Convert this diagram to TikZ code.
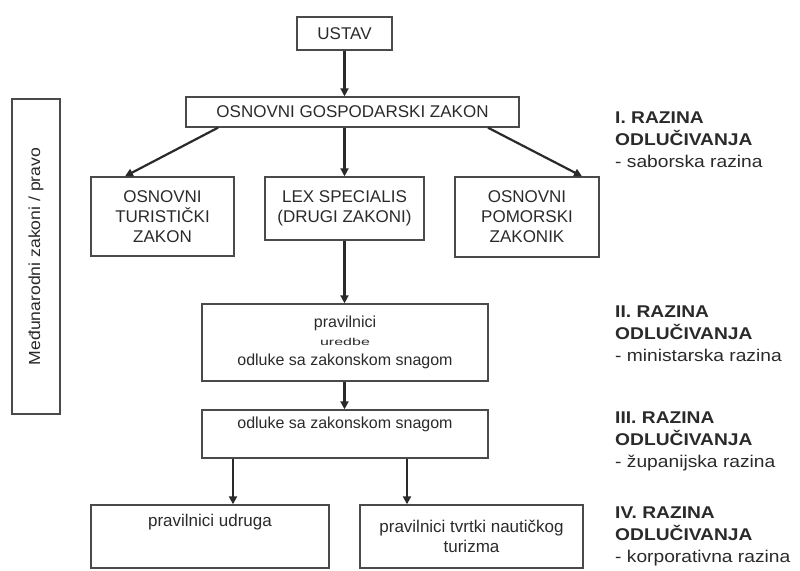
\documentclass[tikz,border=0pt]{standalone}
\usepackage{fontspec}
\setmainfont{Liberation Sans}
\usepackage{graphicx}
\usetikzlibrary{arrows.meta}
\definecolor{ink}{HTML}{2A2A2A}
\definecolor{edge}{HTML}{4A4A4A}
\begin{document}
\begin{tikzpicture}[x=1pt,y=-1pt,
  box/.style={draw=edge, line width=1.4pt, inner sep=0pt, align=center, text=ink,
    font=\fontsize{17}{20}\selectfont},
  lowbox/.style={box, font=\fontsize{16}{19}\selectfont},
  arr/.style={draw=ink, line width=2.2pt, -{Triangle[length=8pt,width=8pt]}},
  lvl/.style={anchor=north west, inner sep=0pt, text=ink, font=\fontsize{17}{22}\selectfont}
]
\useasboundingbox (0,0) rectangle (800,570);

\node[box, minimum width=95pt, minimum height=33pt] (ustav) at (344.5,33.5) {USTAV};
\node[box, minimum width=333pt, minimum height=30pt] (ogz) at (352.5,112) {OSNOVNI GOSPODARSKI ZAKON};
\node[box, minimum width=48pt, minimum height=315pt] (med) at (36,256.5) {};
\node[rotate=90, inner sep=0pt, text=ink, font=\fontsize{16}{18}\selectfont] (medt) at (med.center)
  {\scalebox{1.1}[1]{Međunarodni zakoni / pravo}};
\node[box, minimum width=143pt, minimum height=79pt] (tur) at (162.5,216.5) {OSNOVNI\\TURISTIČKI\\ZAKON};
\node[box, minimum width=159pt, minimum height=63pt] (lex) at (344.5,208.5) {LEX SPECIALIS\\(DRUGI ZAKONI)};
\node[box, minimum width=144pt, minimum height=80pt] (pom) at (527,217) {OSNOVNI\\POMORSKI\\ZAKONIK};
\node[lowbox, minimum width=286pt, minimum height=77pt] (prav) at (345,342.5)
  {\fontsize{16}{18}\selectfont pravilnici\\[-1pt]
   \scalebox{1.6}[1]{\fontsize{10}{12}\selectfont uredbe}\\[1pt]
   \fontsize{16}{18}\selectfont odluke sa zakonskom snagom};
\node[lowbox, minimum width=286pt, minimum height=48pt] (odl) at (345,434) {odluke sa zakonskom snagom\\[4pt]};
\node[box, minimum width=238pt, minimum height=63pt] (pu) at (210,536.5) {pravilnici udruga\\[6pt]\strut};
\node[box, minimum width=223pt, minimum height=63pt] (pt) at (471.5,536.5) {pravilnici tvrtki nautičkog\\turizma};

\draw[arr] (ustav.south) -- (ogz.north -| ustav.south);
\draw[arr] (ogz.south -| lex.north) -- (lex.north);
\draw[arr] (ogz.south -| 218,0) -- (tur.north -| 125,0);
\draw[arr] (ogz.south -| 488,0) -- (pom.north -| 582,0);
\draw[arr] (lex.south) -- (prav.north -| lex.south);
\draw[arr] (prav.south -| lex.south) -- (odl.north -| lex.south);
\draw[arr] (odl.south -| 233,0) -- (pu.north -| 233,0);
\draw[arr] (odl.south -| 407,0) -- (pt.north -| 407,0);

\node[lvl] (l1) at (615,108) {\scalebox{1.13}[1]{\begin{tabular}{@{}l@{}}\bfseries I. RAZINA\\\bfseries ODLUČIVANJA\\- saborska razina\end{tabular}}};
\node[lvl] (l2) at (615,302) {\scalebox{1.13}[1]{\begin{tabular}{@{}l@{}}\bfseries II. RAZINA\\\bfseries ODLUČIVANJA\\- ministarska razina\end{tabular}}};
\node[lvl] (l3) at (615,408) {\scalebox{1.13}[1]{\begin{tabular}{@{}l@{}}\bfseries III. RAZINA\\\bfseries ODLUČIVANJA\\- županijska razina\end{tabular}}};
\node[lvl] (l4) at (615,503) {\scalebox{1.13}[1]{\begin{tabular}{@{}l@{}}\bfseries IV. RAZINA\\\bfseries ODLUČIVANJA\\- korporativna razina\end{tabular}}};
\end{tikzpicture}
\end{document}
